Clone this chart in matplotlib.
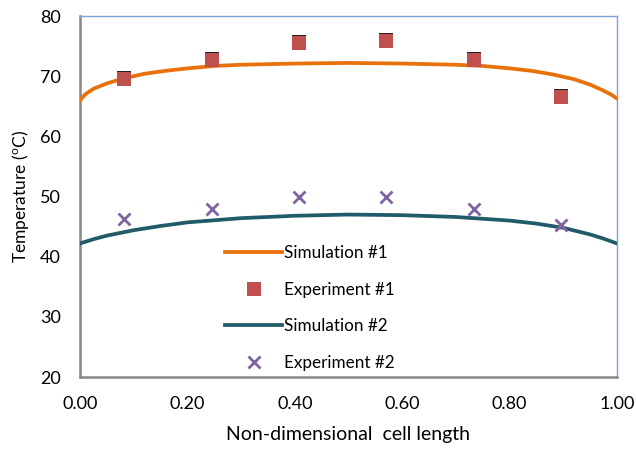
import numpy as np
import matplotlib
matplotlib.use("Agg")
import matplotlib.pyplot as plt
import matplotlib.transforms as mtransforms

plt.rcParams['font.family'] = ['Lato', 'DejaVu Sans']
plt.rcParams['mathtext.fontset'] = 'custom'
plt.rcParams['mathtext.rm'] = 'Lato'

# Simulation curves
x_sim1 = [0.0, 0.01, 0.025, 0.05, 0.08, 0.12, 0.16, 0.2, 0.25, 0.3, 0.4, 0.5,
          0.6, 0.7, 0.75, 0.8, 0.84, 0.88, 0.92, 0.95, 0.975, 0.99, 1.0]
t_sim1 = [66.0, 67.0, 67.9, 68.8, 69.6, 70.4, 70.9, 71.3, 71.7, 71.9, 72.1, 72.2,
          72.1, 71.9, 71.7, 71.3, 70.9, 70.3, 69.5, 68.6, 67.6, 66.9, 66.3]

x_sim2 = [0.0, 0.025, 0.05, 0.1, 0.15, 0.2, 0.3, 0.4, 0.5, 0.6, 0.7,
          0.8, 0.85, 0.9, 0.95, 0.975, 1.0]
t_sim2 = [42.2, 42.9, 43.5, 44.4, 45.1, 45.7, 46.4, 46.8, 47.0, 46.9, 46.6,
          46.0, 45.5, 44.8, 43.7, 43.0, 42.2]

# Experiments
x_exp = [0.082, 0.245, 0.408, 0.570, 0.733, 0.896]
t_exp1 = [69.6, 72.7, 75.5, 75.8, 72.7, 66.6]
t_exp2 = [46.2, 48.0, 49.9, 49.9, 48.0, 45.2]

xticks = [0.0, 0.2, 0.4, 0.6, 0.8, 1.0]
yticks = [20, 30, 40, 50, 60, 70, 80]

fig = plt.figure(figsize=(6.36, 4.5), dpi=100)
ax = fig.add_axes([0.1258, 0.1622, 0.8442, 0.8022])

ax.plot(x_sim1, t_sim1, color='#E8710A', lw=2.7, label='Simulation #1', zorder=3)
# thin dark edge above the squares
shade = mtransforms.offset_copy(ax.transData, fig=fig, x=0, y=0.8, units='dots')
ax.plot(x_exp, t_exp1, 's', color='#222222', ms=9.5, mew=0, transform=shade, zorder=4)
ax.plot(x_exp, t_exp1, 's', color='#C0504D', ms=9.5, mew=0, label='Experiment #1', zorder=5)
ax.plot(x_sim2, t_sim2, color='#215B69', lw=2.7, label='Simulation #2', zorder=3)
ax.plot(x_exp, t_exp2, 'x', color='#8064A2', ms=8, mew=2, label='Experiment #2', zorder=5)

ax.set_xlim(0, 1)
ax.set_ylim(20, 80)
ax.set_xticks(xticks)
ax.set_xticklabels(['%.2f' % v for v in xticks])
ax.set_yticks(yticks)
ax.tick_params(length=0, labelsize=13, colors='black')
ax.tick_params(axis='x', pad=14)
ax.tick_params(axis='y', pad=14)

for s in ['left', 'bottom']:
    ax.spines[s].set_color('#878787')
    ax.spines[s].set_linewidth(1.8)
for s in ['top', 'right']:
    ax.spines[s].set_color('#7BA3D6')
    ax.spines[s].set_linewidth(1.0)

ax.set_xlabel('Non-dimensional  cell length', fontsize=14, labelpad=10)
ax.set_ylabel(r'Temperature ($^{\rm o}$C)', fontsize=12.5, labelpad=6)

ax.legend(loc='upper left', bbox_to_anchor=(0.255, 0.39), frameon=False,
          fontsize=12.3, handlelength=3.3, handletextpad=0.15, labelspacing=1.22,
          numpoints=1, borderpad=0)

fig.savefig('out.png', dpi=100)
